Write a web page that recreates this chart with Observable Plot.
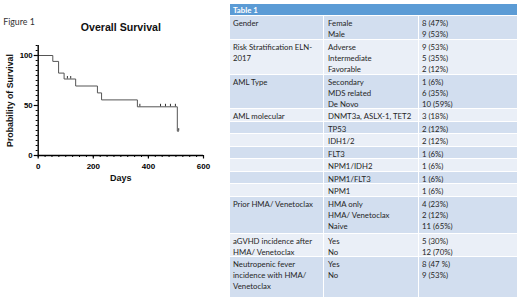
<!DOCTYPE html>
<html><head><meta charset="utf-8">
<script src="https://cdn.jsdelivr.net/npm/d3@7"></script>
<script src="https://cdn.jsdelivr.net/npm/@observablehq/plot@0.6"></script>
<style>
body{margin:0;background:#fff;}
#root{position:relative;width:520px;height:302px;overflow:hidden;}
#chart{position:absolute;left:0;top:0;}
#table{position:absolute;left:0;top:0;width:520px;height:302px;font-family:Lato,"Liberation Sans",Arial,sans-serif;font-size:7.8px;color:#262626;}
.row{position:absolute;left:230px;width:287px;}
.cell{position:absolute;top:0;bottom:0;padding:2.4px 0 0 3px;line-height:10.9px;box-sizing:border-box;white-space:pre;overflow:visible;}
</style></head><body>
<div id="root"><div id="chart"></div><div id="table"></div></div>
<script>
// ---- chart data ----
const figureLabel = "Figure 1";
const chartTitle = "Overall Survival";
const xLabel = "Days";
const yLabel = "Probability of Survival";
const stepDays = [0, 53, 74, 94, 136, 215, 230, 360, 505, 510];
const stepSurvival = [100, 94.1, 82.4, 76.5, 69.5, 62.6, 55.6, 48.7, 24.3, 24.3];
const censorDays = [106, 118, 369, 444, 462, 480, 498, 510];
const censorSurvival = [76.5, 76.5, 48.7, 48.7, 48.7, 48.7, 48.7, 24.3];
const xMajorTicks = [0, 200, 400, 600];
const yMajorTicks = [0, 50, 100];
const xMinorTicks = d3.range(0, 601, 25);
const yMinorTicks = d3.range(0, 111, 5);

// ---- table data ----
const tableTitle = "Table 1";
const rowLabels = ["Gender", "Risk Stratification ELN-\n2017", "AML Type", "AML molecular", "", "", "", "", "", "", "Prior HMA/ Venetoclax", "aGVHD incidence after\nHMA/ Venetoclax", "Neutropenic fever\nincidence with HMA/\nVenetoclax"];
const rowItems = [["Female", "Male"], ["Adverse", "Intermediate", "Favorable"], ["Secondary", "MDS related", "De Novo"], ["DNMT3a, ASLX-1, TET2"], ["TP53"], ["IDH1/2"], ["FLT3"], ["NPM1/IDH2"], ["NPM1/FLT3"], ["NPM1"], ["HMA only", "HMA/ Venetoclax", "Naive"], ["Yes", "No"], ["Yes", "No"]];
const rowCounts = [["8 (47%)", "9 (53%)"], ["9 (53%)", "5 (35%)", "2 (12%)"], ["1 (6%)", "6 (35%)", "10 (59%)"], ["3 (18%)"], ["2 (12%)"], ["2 (12%)"], ["1 (6%)"], ["1 (6%)"], ["1 (6%)"], ["1 (6%)"], ["4 (23%)", "2 (12%)", "11 (65%)"], ["5 (30%)", "12 (70%)"], ["8 (47 %)", "9 (53%)"]];

// ---- layout (not data) ----
const rowTops = [16, 40, 75, 109, 121.5, 134, 146.5, 159, 171.5, 184, 196.5, 234, 257];
const rowBottoms = [39, 74, 108, 120.5, 133, 145.5, 158, 170.5, 183, 195.5, 233, 256, 297];

const steps = stepDays.map((d, i) => ({day: d, s: stepSurvival[i]}));
const cens = censorDays.map((d, i) => ({day: d, s: censorSurvival[i]}));

const plot = Plot.plot({
  width: 225, height: 200,
  marginLeft: 37.7, marginRight: 22, marginTop: 45, marginBottom: 45,
  x: {domain: [0, 600]},
  y: {domain: [0, 110]},
  style: {fontFamily: "'Liberation Sans', Arial, sans-serif", color: "#000", background: "transparent", overflow: "visible"},
  marks: [
    Plot.line(steps, {x: "day", y: "s", curve: "step-after", stroke: "#555", strokeWidth: 1}),
    Plot.ruleX(cens, {x: "day", y1: "s", y2: d => d.s + 2.5, stroke: "#333", strokeWidth: 1}),
    Plot.axisX({ticks: xMinorTicks, tickSize: 2, text: null, label: null, strokeWidth: 1}),
    Plot.axisX({ticks: xMajorTicks, tickSize: 3.5, tickPadding: 4, fontSize: 8, fontWeight: "bold", label: null, strokeWidth: 1.2}),
    Plot.axisY({ticks: yMinorTicks, tickSize: 2, text: null, label: null, strokeWidth: 1}),
    Plot.axisY({ticks: yMajorTicks, tickSize: 4, tickPadding: 1.5, fontSize: 7.8, fontWeight: "bold", label: null, strokeWidth: 1.2}),
    Plot.ruleY([0], {stroke: "#000", strokeWidth: 1.4}),
    Plot.ruleX([0], {y1: 0, y2: 110, stroke: "#000", strokeWidth: 1.4}),
    Plot.text([xLabel], {frameAnchor: "bottom", dy: 23, textAnchor: "middle", lineAnchor: "middle", fontSize: 9, fontWeight: "bold", fill: "#111"}),
    Plot.text([yLabel], {frameAnchor: "left", dx: -28, rotate: -90, textAnchor: "middle", lineAnchor: "middle", fontSize: 8.8, fontWeight: "bold", fill: "#111"}),
    Plot.text([chartTitle], {frameAnchor: "top", dy: -18, textAnchor: "middle", lineAnchor: "middle", fontSize: 10.6, fontWeight: "bold", fill: "#111"}),
    Plot.text([figureLabel], {frameAnchor: "top-left", dx: -35, dy: -23.3, textAnchor: "start", lineAnchor: "middle", fontSize: 8.8, fontFamily: "Lato, 'Liberation Sans', sans-serif", fill: "#333"})
  ]
});
document.getElementById("chart").appendChild(plot);

// ---- table ----
const tbl = document.getElementById("table");
const header = document.createElement("div");
header.className = "row";
header.style.cssText = "top:4px;height:11px;background:#5B9BD5;color:#fff;font-weight:bold;padding:0.8px 0 0 3px;box-sizing:border-box;line-height:10px;";
header.textContent = tableTitle;
tbl.appendChild(header);
const colLeft = [0, 94, 189];
const colWidth = [93, 94, 98];
const colPad = [3, 4, 3];
rowLabels.forEach((lab, i) => {
  const r = document.createElement("div");
  r.className = "row";
  r.style.top = rowTops[i] + "px";
  r.style.height = (rowBottoms[i] - rowTops[i]) + "px";
  const bg = i % 2 === 0 ? "#D2DEEF" : "#EAEFF7";
  [lab, rowItems[i].join("\n"), rowCounts[i].join("\n")].forEach((t, c) => {
    const cell = document.createElement("div");
    cell.className = "cell";
    cell.style.left = colLeft[c] + "px";
    cell.style.width = colWidth[c] + "px";
    cell.style.paddingLeft = colPad[c] + "px";
    cell.style.background = bg;
    cell.textContent = t;
    r.appendChild(cell);
  });
  tbl.appendChild(r);
});
</script>
</body></html>
